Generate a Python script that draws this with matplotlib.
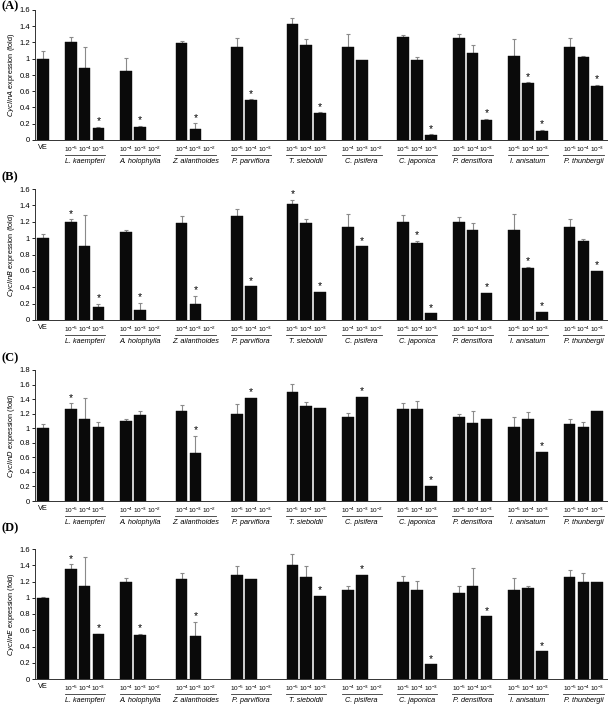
import numpy as np
import matplotlib
matplotlib.use("Agg")
import matplotlib.pyplot as plt
from matplotlib import transforms

plt.rcParams['font.family'] = ['Liberation Sans', 'DejaVu Sans']
plt.rcParams['mathtext.default'] = 'regular'

# ---------------- data ----------------
species = ['L. kaempferi', 'A. holophylla', 'Z. ailanthoides', 'P. parviflora',
           'T. sieboldii', 'C. pisifera', 'C. japonica', 'P. densiflora',
           'I. anisatum', 'P. thunbergii']
dose_exps = [[-5, -4, -3], [-4, -3, -2], [-4, -3, -2], [-5, -4, -3], [-5, -4, -3],
             [-4, -3, -2], [-5, -4, -3], [-5, -4, -3], [-5, -4, -3], [-5, -4, -3]]

N = np.nan
# CyclinA
a_ve, a_ve_err = 1.00, 0.10
a_vals = [[1.21, 0.88, 0.15], [0.85, 0.16, N], [1.19, 0.135, N], [1.15, 0.49, N],
          [1.43, 1.17, 0.33], [1.15, 0.98, N], [1.27, 0.99, 0.06], [1.26, 1.07, 0.25],
          [1.03, 0.70, 0.115], [1.14, 1.02, 0.67]]
a_errs = [[0.06, 0.27, 0.01], [0.16, 0.01, 0], [0.03, 0.07, 0], [0.10, 0.01, 0],
          [0.07, 0.07, 0.01], [0.15, 0.0, 0], [0.02, 0.03, 0.01], [0.04, 0.10, 0.01],
          [0.21, 0.01, 0.01], [0.11, 0.01, 0.01]]
a_sig = [[0, 0, 1], [0, 1, 0], [0, 1, 0], [0, 1, 0], [0, 0, 1], [0, 0, 0],
         [0, 0, 1], [0, 0, 1], [0, 1, 1], [0, 0, 1]]
# CyclinB
b_ve, b_ve_err = 1.00, 0.05
b_vals = [[1.20, 0.90, 0.16], [1.07, 0.12, N], [1.19, 0.20, N], [1.27, 0.41, N],
          [1.42, 1.19, 0.34], [1.14, 0.90, N], [1.20, 0.94, 0.08], [1.20, 1.10, 0.33],
          [1.10, 0.64, 0.10], [1.13, 0.96, 0.60]]
b_errs = [[0.03, 0.38, 0.04], [0.03, 0.09, 0], [0.08, 0.09, 0], [0.08, 0.0, 0],
          [0.05, 0.04, 0.0], [0.15, 0.0, 0], [0.08, 0.03, 0.0], [0.06, 0.08, 0.0],
          [0.20, 0.01, 0.0], [0.10, 0.03, 0.0]]
b_sig = [[1, 0, 1], [0, 1, 0], [0, 1, 0], [0, 1, 0], [1, 0, 1], [0, 1, 0],
         [0, 1, 1], [0, 0, 1], [0, 1, 1], [0, 0, 1]]
# CyclinD
d_ve, d_ve_err = 1.00, 0.06
d_vals = [[1.27, 1.13, 1.02], [1.10, 1.18, N], [1.24, 0.66, N], [1.20, 1.42, N],
          [1.50, 1.30, 1.28], [1.15, 1.43, N], [1.26, 1.27, 0.21], [1.16, 1.07, 1.12],
          [1.02, 1.13, 0.67], [1.06, 1.01, 1.23]]
d_errs = [[0.07, 0.28, 0.07], [0.02, 0.06, 0], [0.08, 0.24, 0], [0.13, 0.0, 0],
          [0.11, 0.06, 0.0], [0.06, 0.0, 0], [0.09, 0.10, 0.0], [0.03, 0.17, 0.0],
          [0.14, 0.09, 0.0], [0.07, 0.08, 0.0]]
d_sig = [[1, 0, 0], [0, 0, 0], [0, 1, 0], [0, 1, 0], [0, 0, 0], [0, 1, 0],
         [0, 0, 1], [0, 0, 0], [0, 0, 1], [0, 0, 0]]
# CyclinE
e_ve, e_ve_err = 1.00, 0.01
e_vals = [[1.36, 1.14, 0.55], [1.20, 0.54, N], [1.23, 0.53, N], [1.28, 1.23, N],
          [1.40, 1.25, 1.02], [1.09, 1.28, N], [1.19, 1.09, 0.18], [1.06, 1.15, 0.77],
          [1.10, 1.12, 0.34], [1.26, 1.19, 1.19]]
e_errs = [[0.05, 0.36, 0.01], [0.04, 0.02, 0], [0.07, 0.17, 0], [0.11, 0.0, 0],
          [0.14, 0.14, 0.0], [0.06, 0.0, 0], [0.08, 0.12, 0.0], [0.09, 0.22, 0.0],
          [0.14, 0.02, 0.0], [0.08, 0.11, 0.0]]
e_sig = [[1, 0, 1], [0, 1, 0], [0, 1, 0], [0, 0, 0], [0, 0, 1], [0, 1, 0],
         [0, 0, 1], [0, 0, 1], [0, 0, 1], [0, 0, 0]]

panels = [
    ('(A)', 'CyclinA', a_ve, a_ve_err, a_vals, a_errs, a_sig, 1.6),
    ('(B)', 'CyclinB', b_ve, b_ve_err, b_vals, b_errs, b_sig, 1.6),
    ('(C)', 'CyclinD', d_ve, d_ve_err, d_vals, d_errs, d_sig, 1.8),
    ('(D)', 'CyclinE', e_ve, e_ve_err, e_vals, e_errs, e_sig, 1.6),
]

# ---------------- layout ----------------
W, H = 610, 706
fig = plt.figure(figsize=(W / 100, H / 100), dpi=100)
# (top px, bottom px) of each axes
ax_px = [(10, 140), (189, 320), (370, 501), (549, 679)]
label_px = [6, 177, 358, 528]
left_px, right_px = 35, 607

for (lab, gene, ve, ve_err, vals, errs, sig, ymax), (tp, bp), lp in zip(panels, ax_px, label_px):
    ax = fig.add_axes([left_px / W, 1 - bp / H, (right_px - left_px) / W, (bp - tp) / H])
    pos = [0]
    heights = [ve]
    err = [ve_err]
    stars = [0]
    ticklabels = ['VE']
    for g in range(len(species)):
        for k in range(3):
            pos.append(2 + 4 * g + k)
            heights.append(vals[g][k])
            err.append(errs[g][k])
            stars.append(sig[g][k])
            ticklabels.append(r'10$^{%d}$' % dose_exps[g][k])
    pos = np.array(pos, float)
    heights = np.array(heights, float)
    err = np.array(err, float)
    ok = ~np.isnan(heights)
    ax.bar(pos[ok], heights[ok], width=0.84, color='#0a0a0a', edgecolor='#0a0a0a',
           linewidth=0.3, zorder=2)
    e_ok = ok & (err > 0.005)
    ax.errorbar(pos[e_ok], heights[e_ok],
                yerr=[np.zeros(e_ok.sum()), err[e_ok]], fmt='none',
                ecolor='#8a8a8a', elinewidth=0.8, capsize=1.2, capthick=0.8, zorder=1)
    for x, h, e, s in zip(pos, heights, err, stars):
        if s and not np.isnan(h):
            ax.annotate('*', (x, h + e), xytext=(0, 0.5), textcoords='offset points',
                        ha='center', va='bottom', fontsize=7.5)
    ax.set_xlim(-0.58, 40.7)
    ax.set_ylim(0, ymax)
    yt = np.round(np.arange(0, ymax + 0.001, 0.2), 1)
    ax.set_yticks(yt)
    ax.set_yticklabels(['%g' % v for v in yt])
    ax.set_xticks(pos)
    ax.set_xticklabels(ticklabels)
    for t in ax.get_xticklabels():
        t.set_fontsize(4.6 if t.get_text() != 'VE' else 5.3)
    ax.tick_params(axis='x', length=0, pad=3.2)
    ax.tick_params(axis='y', length=2, width=0.6, labelsize=5.5, pad=1.5)
    for sp in ['top', 'right']:
        ax.spines[sp].set_visible(False)
    for sp in ['left', 'bottom']:
        ax.spines[sp].set_linewidth(0.7)
        ax.spines[sp].set_color('#333333')
    ax.set_ylabel(r'$\mathit{%s}$ expression (fold)' % gene, fontsize=5.2, labelpad=2)
    ax.yaxis.set_label_coords(-0.031, 0.5)

    axh = bp - tp
    trans = transforms.blended_transform_factory(ax.transData, ax.transAxes)
    for g, name in enumerate(species):
        x0 = 2 + 4 * g
        ax.plot([x0 - 0.45, x0 + 2.45], [-15 / axh, -15 / axh], transform=trans,
                color='#333333', lw=0.6, clip_on=False)
        ax.text(x0 + 1, -21.5 / axh, name, transform=trans, ha='center', va='center',
                fontsize=5.2, style='italic')

    fig.text(1 / W, 1 - lp / H, lab, fontsize=9, fontweight='bold',
             family='Liberation Serif', ha='left', va='center')

fig.savefig('out.png', dpi=100)
